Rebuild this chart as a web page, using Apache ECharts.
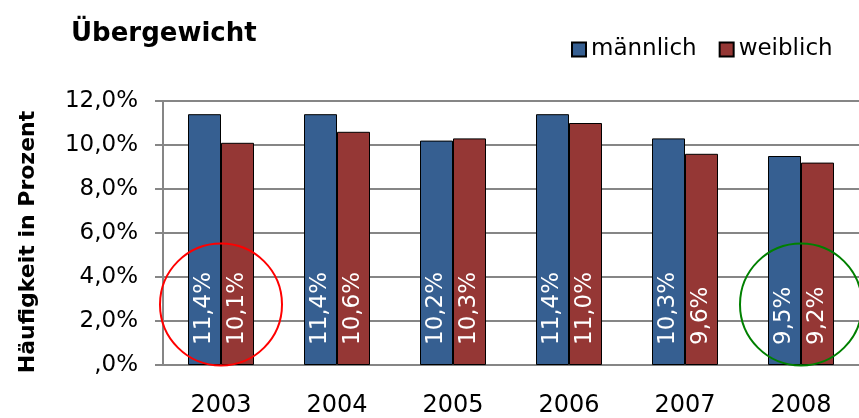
<!DOCTYPE html>
<html>
<head>
<meta charset="utf-8">
<script src="https://cdn.jsdelivr.net/npm/echarts@6/dist/echarts.min.js"></script>
<style>
  html, body { margin: 0; padding: 0; background: #fff; }
  #myChart { width: 859px; height: 418px; }
</style>
</head>
<body>
<div id="myChart"></div>
<script>
// Daten
let years = ['2003', '2004', '2005', '2006', '2007', '2008']
let maennlich = [11.4, 11.4, 10.2, 11.4, 10.3, 9.5]
let weiblich = [10.1, 10.6, 10.3, 11.0, 9.6, 9.2]
let yTickLabels = [',0%', '2,0%', '4,0%', '6,0%', '8,0%', '10,0%', '12,0%']
// markierte Jahre (Kreise)
let circleRed = ['2003', 2.75]
let circleGreen = ['2008', 2.75]

let myChart = echarts.init(document.getElementById('myChart'))
let font = 'DejaVu Sans'

function pct(v) {
    return v.toFixed(1).replace('.', ',') + '%'
}

function circle(coord, color) {
    return {
        coord: coord,
        symbol: 'circle',
        symbolSize: 122,
        itemStyle: { color: 'rgba(0,0,0,0)', borderColor: color, borderWidth: 2 },
        label: { show: false }
    }
}

let barLabel = {
    show: true,
    position: 'insideBottom',
    distance: 20,
    rotate: 90,
    align: 'left',
    verticalAlign: 'middle',
    color: '#fff',
    fontFamily: font,
    fontSize: 23,
    formatter: (p) => pct(p.value)
}

let option = {
    animation: false,
    title: {
        text: 'Übergewicht',
        left: 66,
        top: 16,
        textStyle: { fontFamily: font, fontSize: 26, fontWeight: 'bold', color: '#000' }
    },
    legend: {
        left: 566,
        top: 33,
        itemWidth: 14,
        itemHeight: 14,
        itemGap: 22,
        icon: 'rect',
        textStyle: { fontFamily: font, fontSize: 23, color: '#000' },
        data: ['männlich', 'weiblich']
    },
    grid: {
        left: 163,
        top: 101,
        right: -5,
        bottom: 52,
        containLabel: false
    },
    xAxis: {
        type: 'category',
        data: years,
        axisTick: { show: false },
        axisLine: { lineStyle: { color: '#868686', width: 2 } },
        axisLabel: { color: '#000', fontFamily: font, fontSize: 24, margin: 29 }
    },
    yAxis: {
        type: 'value',
        min: 0,
        max: 12,
        interval: 2,
        name: 'Häufigkeit in Prozent',
        nameLocation: 'middle',
        nameGap: 124,
        nameTextStyle: { fontFamily: font, fontSize: 22, fontWeight: 'bold', color: '#000', padding: [0, 18, 0, 0] },
        axisLine: { show: true, lineStyle: { color: '#868686', width: 2 } },
        axisTick: { show: true, length: 8, lineStyle: { color: '#868686', width: 2 } },
        splitLine: { lineStyle: { color: '#868686', width: 2 } },
        axisLabel: {
            color: '#000',
            fontFamily: font,
            fontSize: 23,
            margin: 25,
            formatter: (v) => yTickLabels[Math.round(v / 2)]
        }
    },
    series: [
        {
            name: 'männlich',
            type: 'bar',
            data: maennlich,
            barWidth: 33,
            barGap: '0%',
            itemStyle: { color: '#365f91', borderColor: '#000', borderWidth: 1 },
            label: barLabel
        },
        {
            name: 'weiblich',
            type: 'bar',
            data: weiblich,
            barWidth: 33,
            barGap: '0%',
            itemStyle: { color: '#953735', borderColor: '#000', borderWidth: 1 },
            label: barLabel
        },
        {
            // nur für die Kreise
            name: 'markierung',
            type: 'line',
            data: [],
            silent: true,
            markPoint: {
                silent: true,
                data: [circle(circleRed, '#ff0000'), circle(circleGreen, '#008000')]
            }
        }
    ]
}
myChart.setOption(option)
</script>
</body>
</html>
